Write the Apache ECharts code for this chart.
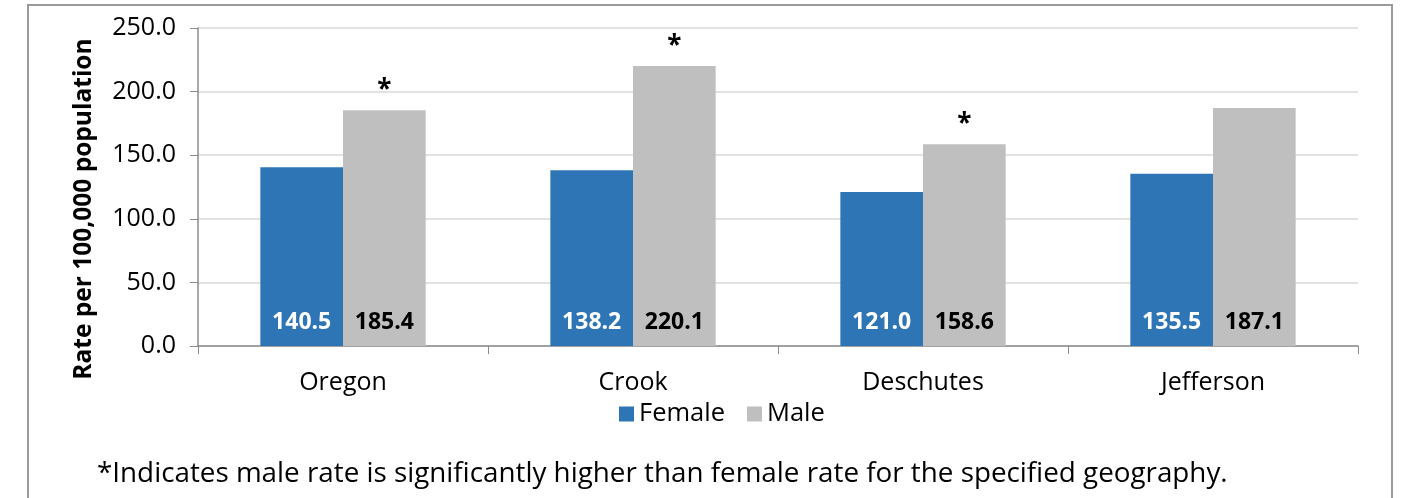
<!DOCTYPE html>
<html>
<head>
<meta charset="utf-8">
<script src="https://cdn.jsdelivr.net/npm/echarts@6/dist/echarts.min.js"></script>
<style>
  html, body { margin: 0; padding: 0; background: #fff; }
  #main { width: 1405px; height: 498px; }
</style>
</head>
<body>
<div id="main"></div>
<script>
var categories = ['Oregon', 'Crook', 'Deschutes', 'Jefferson'];
var femaleRates = [140.5, 138.2, 121.0, 135.5];
var maleRates = [185.4, 220.1, 158.6, 187.1];
// male rate significantly higher than female rate
var significant = [true, true, true, false];

var font = 'Open Sans';

var starPoints = [];
significant.forEach(function (s, i) {
    if (s) starPoints.push({ coord: [categories[i], maleRates[i]], value: '*' });
});

var myChart = echarts.init(document.getElementById('main'));
myChart.setOption({
    animation: false,
    textStyle: { fontFamily: font },
    grid: { left: 198, right: 47, top: 28, bottom: 152 },
    legend: {
        data: ['Female', 'Male'],
        left: 614,
        top: 396,
        icon: 'rect',
        itemWidth: 15,
        itemHeight: 15,
        itemGap: 22,
        textStyle: { fontSize: 25.5, color: '#000', fontFamily: font }
    },
    graphic: [
        {
            type: 'rect',
            shape: { x: 28, y: 5, width: 1364, height: 540 },
            style: { fill: 'none', stroke: '#9a9a9a', lineWidth: 2 },
            silent: true
        },
        {
            type: 'text',
            x: 84,
            y: 209,
            rotation: Math.PI / 2,
            style: {
                text: 'Rate per 100,000 population',
                font: 'bold 24.5px "' + font + '"',
                fill: '#000',
                align: 'center',
                verticalAlign: 'middle'
            }
        },
        {
            type: 'text',
            left: 97,
            top: 460,
            style: {
                text: '*Indicates male rate is significantly higher than female rate for the specified geography.',
                font: '27.8px "' + font + '"',
                fill: '#000'
            }
        }
    ],
    xAxis: {
        type: 'category',
        data: categories,
        axisLine: { lineStyle: { color: '#8c8c8c', width: 1.5 } },
        axisTick: { show: true, length: 8, lineStyle: { color: '#8c8c8c' } },
        axisLabel: { fontSize: 25, color: '#000', margin: 24 }
    },
    yAxis: {
        type: 'value',
        min: 0,
        max: 250,
        interval: 50,
        axisLine: { show: true, lineStyle: { color: '#8c8c8c', width: 1.5 } },
        axisTick: { show: true, length: 8, lineStyle: { color: '#8c8c8c' } },
        splitLine: { lineStyle: { color: '#d9d9d9', width: 1.5 } },
        axisLabel: {
            fontSize: 25,
            color: '#000',
            margin: 22,
            formatter: function (v) { return v.toFixed(1); }
        }
    },
    series: [
        {
            name: 'Female',
            type: 'bar',
            data: femaleRates,
            barGap: 0,
            barCategoryGap: '43%',
            itemStyle: { color: '#2e75b6' },
            label: {
                show: true,
                position: 'insideBottom',
                distance: 12,
                color: '#fff',
                fontWeight: 'bold',
                fontSize: 23,
                formatter: function (p) { return p.value.toFixed(1); }
            }
        },
        {
            name: 'Male',
            type: 'bar',
            data: maleRates,
            itemStyle: { color: '#bfbfbf' },
            label: {
                show: true,
                position: 'insideBottom',
                distance: 12,
                color: '#000',
                fontWeight: 'bold',
                fontSize: 23,
                formatter: function (p) { return p.value.toFixed(1); }
            },
            markPoint: {
                symbol: 'rect',
                symbolSize: 1,
                itemStyle: { color: 'transparent' },
                silent: true,
                label: {
                    show: true,
                    position: 'top',
                    distance: 6,
                    color: '#000',
                    fontWeight: 'bold',
                    fontSize: 26,
                    formatter: '*'
                },
                data: starPoints
            }
        }
    ]
});
</script>
</body>
</html>
